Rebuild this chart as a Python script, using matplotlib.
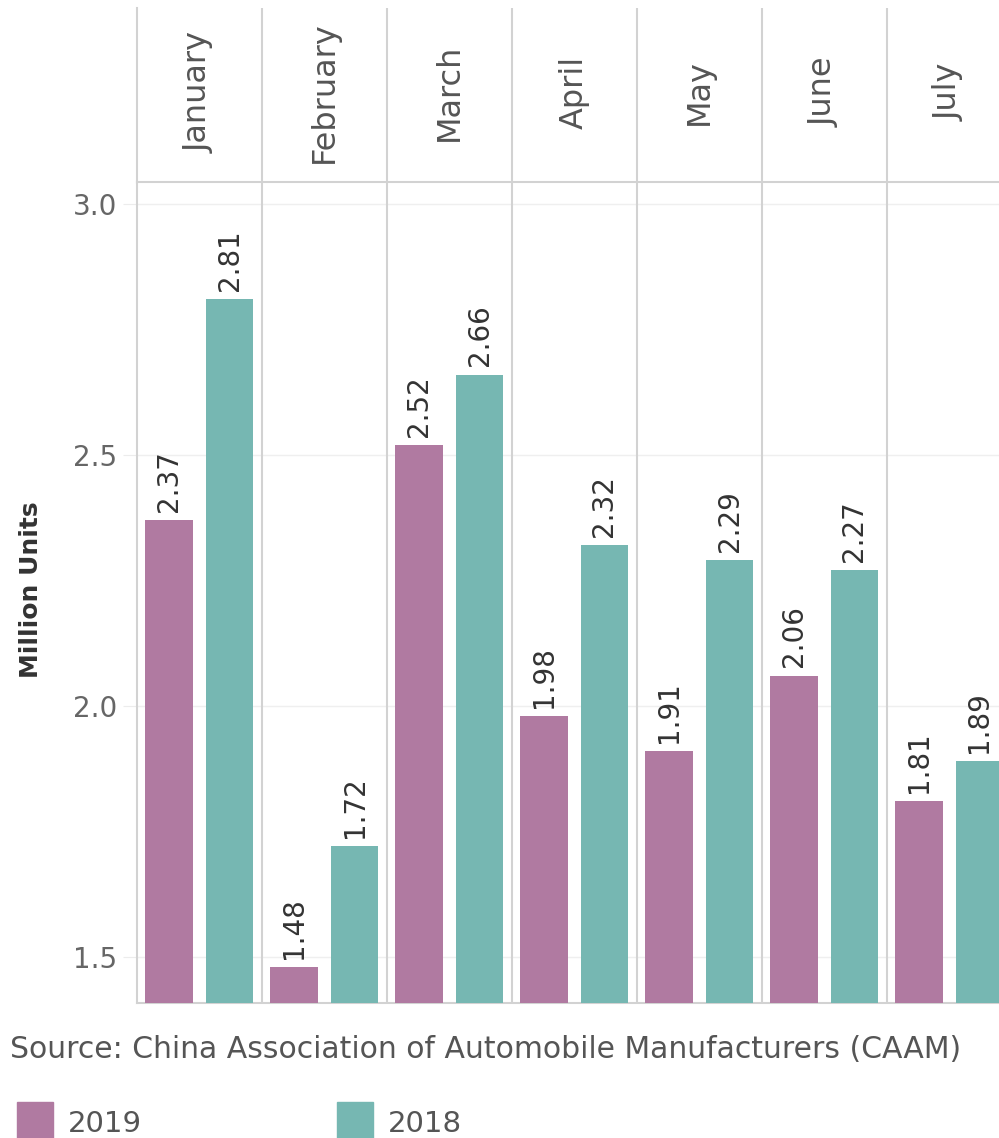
import numpy as np
import matplotlib.pyplot as plt
from matplotlib.patches import Rectangle

plt.rcParams['font.family'] = ['DejaVu Sans']

# == Data == #
months = ['January', 'February', 'March', 'April', 'May', 'June', 'July']
sales_2019 = [2.37, 1.48, 2.52, 1.98, 1.91, 2.06, 1.81]
sales_2018 = [2.81, 1.72, 2.66, 2.32, 2.29, 2.27, 1.89]
yticks = [1.5, 2.0, 2.5, 3.0]

c19 = '#B07AA1'
c18 = '#76B7B2'
sep = '#d2d2d2'

W, H = 999, 1138
fig = plt.figure(figsize=(W / 100, H / 100), dpi=100)

x0, x1 = 137, 999
col_w = 125
ybot, ytop, yhead = 1003, 182, 8

ax = fig.add_axes([x0 / W, (H - ybot) / H, (x1 - x0) / W, (ybot - ytop) / H])
hax = fig.add_axes([x0 / W, (H - ytop) / H, (x1 - x0) / W, (ytop - yhead) / H])

xmax = (x1 - x0) / col_w
x = np.arange(len(months))
bw = 0.38
ax.bar(x + 0.255, sales_2019, width=bw, color=c19, zorder=3)
ax.bar(x + 0.74, sales_2018, width=bw, color=c18, zorder=3)

for xi, v in zip(x + 0.255, sales_2019):
    ax.annotate(f'{v:.2f}', (xi, v), xytext=(0, 6), textcoords='offset points',
                rotation=90, ha='center', va='bottom', fontsize=20, color='#333333')
for xi, v in zip(x + 0.74, sales_2018):
    ax.annotate(f'{v:.2f}', (xi, v), xytext=(0, 6), textcoords='offset points',
                rotation=90, ha='center', va='bottom', fontsize=20, color='#333333')

ax.set_xlim(0, xmax)
ax.set_ylim(1.408, 3.044)
ax.set_xticks([])
ax.set_yticks(yticks)
ax.set_yticklabels([f'{t:.1f}' for t in yticks], fontsize=20, color='#666666')
ax.tick_params(axis='y', length=10, color='#ececec', pad=4)
ax.grid(axis='y', color='#efefef', lw=1, zorder=0)
for s in ['top', 'right']:
    ax.spines[s].set_visible(False)
ax.spines['left'].set_color(sep)
ax.spines['bottom'].set_color(sep)
ax.spines['left'].set_linewidth(1.5)
ax.spines['bottom'].set_linewidth(1.5)
ax.vlines(x[1:], 1.408, 3.044, color=sep, lw=1.5, zorder=2)
fig.text(31 / W, 1 - 590 / H, 'Million Units', rotation=90, fontsize=18, fontweight='bold',
         color='#333333', ha='center', va='center')

# header with month names
hax.set_xlim(0, xmax)
hax.set_ylim(0, 1)
hax.set_xticks([])
hax.set_yticks([])
for s in ['top', 'right']:
    hax.spines[s].set_visible(False)
hax.spines['left'].set_color(sep)
hax.spines['bottom'].set_color(sep)
hax.spines['left'].set_linewidth(1.5)
hax.spines['bottom'].set_linewidth(1.5)
hax.vlines(x[1:], 0, 1, color=sep, lw=1.5)
for xi, m in zip(x + 0.5, months):
    hax.text(xi, 0.517, m, rotation=90, ha='center', va='center', fontsize=23, color='#555555')

fig.text(10 / W, 1 - 1050 / H, 'Source: China Association of Automobile Manufacturers (CAAM)',
         fontsize=21.5, color='#555555', va='center', ha='left')

# legend
for lx, tx, lab, col in [(17, 68, '2019', c19), (337, 388, '2018', c18)]:
    fig.patches.append(Rectangle((lx / W, 0), 36 / W, (1138 - 1102) / H, color=col,
                                 transform=fig.transFigure, figure=fig))
    fig.text(tx / W, 1 - 1124 / H, lab, fontsize=21, color='#555555', va='center', ha='left')

fig.savefig('out.png', dpi=100)
